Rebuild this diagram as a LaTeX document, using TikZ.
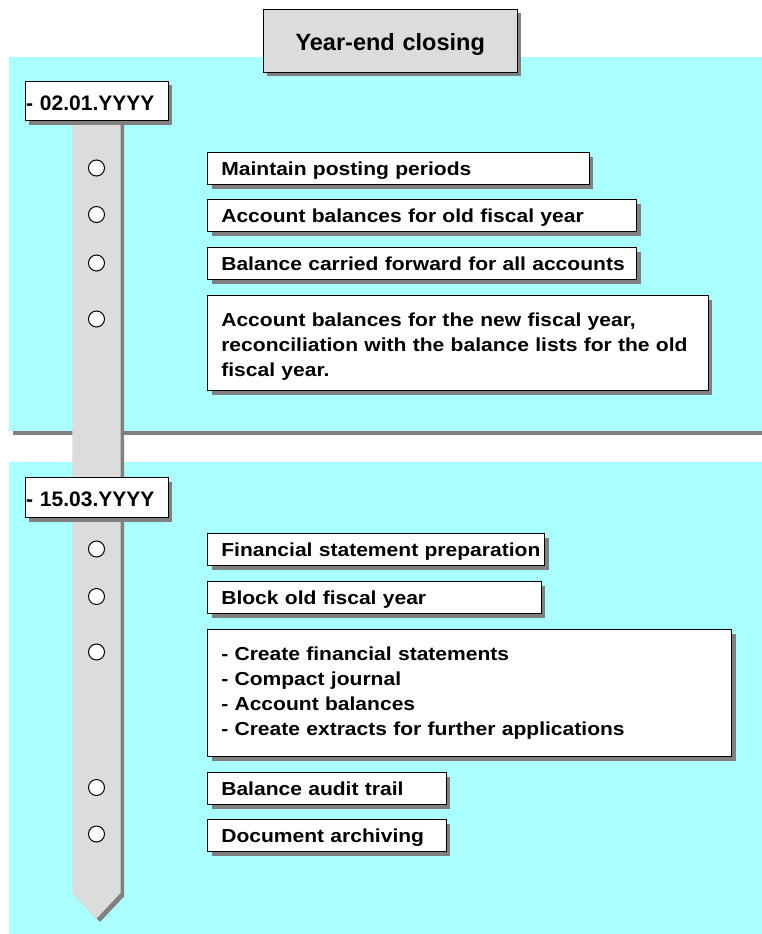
\documentclass[tikz,border=0pt]{standalone}
\usepackage{fontspec}
\setmainfont{Liberation Sans}
\newfontfamily\itemfont{Liberation Sans}[FakeStretch=1.12]
\definecolor{panelcyan}{RGB}{170,255,255}
\definecolor{barfill}{RGB}{220,220,220}
\definecolor{shadowgray}{RGB}{128,128,128}

\begin{document}
\begin{tikzpicture}[x=1pt,y=-1pt,
  dropshadow/.style={preaction={fill=shadowgray,transform canvas={xshift=4pt,yshift=-4pt}}},
  taskbox/.style={dropshadow,draw=black,line width=1pt,fill=white,anchor=north west,
    inner ysep=0pt,inner xsep=13.5pt,align=left,
    font=\itemfont\bfseries\fontsize{18.8}{25}\selectfont,
    text height=23pt,text depth=9pt},
  datebox/.style={dropshadow,draw=black,line width=1pt,fill=white,anchor=north west,
    inner ysep=0pt,inner xsep=1pt,align=left,text width=141pt,
    font=\bfseries\fontsize{21}{25}\selectfont},
  titlebox/.style={dropshadow,draw=black,line width=1pt,fill=barfill,anchor=north west,
    inner sep=0pt,align=center,font=\bfseries\fontsize{23.5}{28}\selectfont},
  milestone/.style={circle,draw=black,line width=1pt,fill=white,minimum size=16pt,inner sep=0pt}
]
\useasboundingbox (0,0) rectangle (761,934);

% two phase panels with their shadows
\fill[shadowgray] (13,60.5) rectangle (800,434.5);
\fill[panelcyan] (9,57) rectangle (800,431);
\fill[shadowgray] (13,465.5) rectangle (800,940);
\fill[panelcyan] (9,462) rectangle (800,940);

% time bar with pointed end
\fill[shadowgray] (75.8,100) -- (75.8,896.5) -- (100,922) -- (124,896.5) -- (124,100) -- cycle;
\fill[barfill] (72.3,100) -- (72.3,893) -- (96.5,918.5) -- (120.5,893) -- (120.5,100) -- cycle;

% title
\node[titlebox,text width=254pt,text height=41pt,text depth=21.7pt] (title) at (262.7,9) {Year-end closing};

% dates
\node[datebox,text height=29.3pt,text depth=10pt] (date1) at (24.5,80.7) {- 02.01.YYYY};
\node[datebox,text height=29pt,text depth=11pt] (date2) at (24.5,477) {- 15.03.YYYY};

% milestones on the bar
\node[milestone] (m1) at (96.5,168) {};
\node[milestone] (m2) at (96.5,214.5) {};
\node[milestone] (m3) at (96.5,263) {};
\node[milestone] (m4) at (96.5,319) {};
\node[milestone] (m5) at (96.5,549) {};
\node[milestone] (m6) at (96.5,596.5) {};
\node[milestone] (m7) at (96.5,652) {};
\node[milestone] (m8) at (96.5,787.5) {};
\node[milestone] (m9) at (96.5,834) {};

% tasks of the first phase
\node[taskbox,text width=354.4pt] (t1) at (207.3,152.3) {\mbox{Maintain posting periods}};
\node[taskbox,text width=402pt] (t2) at (207.3,199.3) {\mbox{Account balances for old fiscal year}};
\node[taskbox,text width=402pt] (t3) at (207.3,247.3) {\mbox{Balance carried forward for all accounts}};
\node[taskbox,text width=473.4pt,text height=31pt,text depth=64pt] (t4) at (207.3,295)
  {\mbox{Account balances for the new fiscal year,}\\\mbox{reconciliation with the balance lists for the old}\\\mbox{fiscal year.}};

% tasks of the second phase
\node[taskbox,text width=310pt] (t5) at (207.3,533.3) {\mbox{Financial statement preparation}};
\node[taskbox,text width=306.4pt] (t6) at (207.3,581) {\mbox{Block old fiscal year}};
\node[taskbox,text width=497pt,text height=31pt,text depth=96pt] (t7) at (207.3,629)
  {- Create financial statements\\- Compact journal\\- Account balances\\- Create extracts for further applications};
\node[taskbox,text width=211.4pt] (t8) at (207.3,772.3) {\mbox{Balance audit trail}};
\node[taskbox,text width=211.4pt] (t9) at (207.3,819.3) {\mbox{Document archiving}};
\end{tikzpicture}
\end{document}
